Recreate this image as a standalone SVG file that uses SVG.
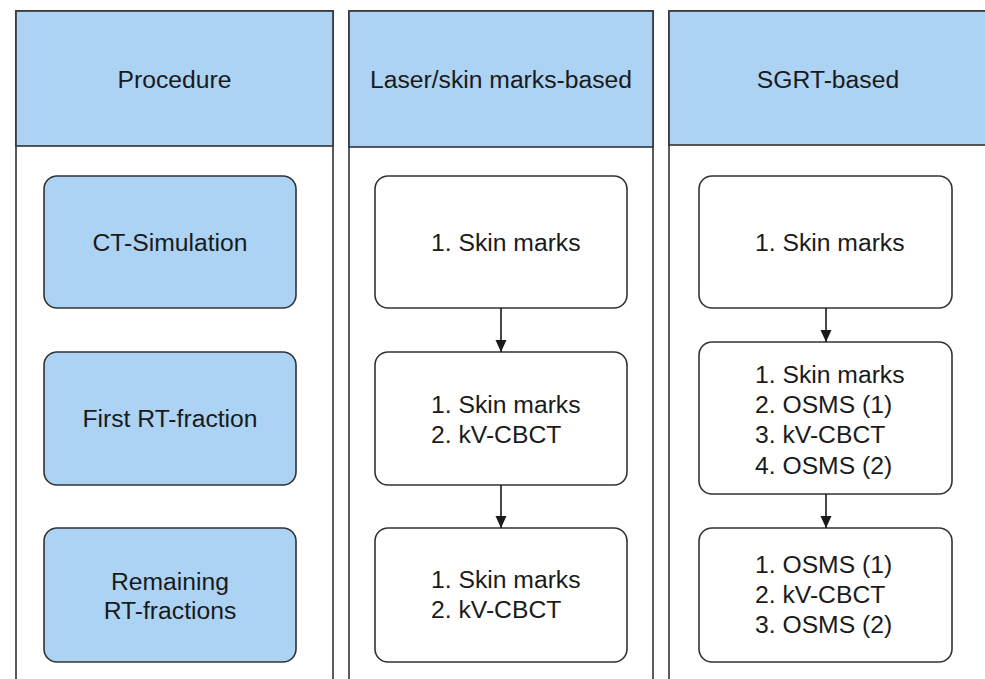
<svg xmlns="http://www.w3.org/2000/svg" width="985" height="679" viewBox="0 0 985 679">
  <style>
    .lane { fill: #ffffff; stroke: #333333; stroke-width: 1.6; }
    .head { fill: #acd2f4; stroke: #333333; stroke-width: 1.6; }
    .proc { fill: #acd2f4; stroke: #333333; stroke-width: 1.6; }
    .step { fill: #ffffff; stroke: #333333; stroke-width: 1.6; }
    text { font-family: "Liberation Sans", Arial, sans-serif; font-size: 24.7px; fill: #1a1a1a; }
    .c { text-anchor: middle; }
    .edge { stroke: #1a1a1a; stroke-width: 1.6; fill: none; marker-end: url(#arrow); }
  </style>
  <defs>
    <marker id="arrow" viewBox="0 0 12 12" refX="12" refY="6" markerWidth="12" markerHeight="12" markerUnits="userSpaceOnUse" orient="auto">
      <path d="M0,0.5 L12,6 L0,11.5 Z" fill="#1a1a1a"/>
    </marker>
  </defs>
  <rect width="985" height="679" fill="#ffffff"/>

  <!-- Lane: Procedure -->
  <g id="lane-procedure">
    <rect class="lane" x="16" y="11" width="317" height="690"/>
    <rect class="head" x="16" y="11" width="317" height="135"/>
    <text class="c" x="174.5" y="88">Procedure</text>
  </g>
  <!-- Lane: Laser/skin marks-based -->
  <g id="lane-laser">
    <rect class="lane" x="349" y="11" width="304" height="690"/>
    <rect class="head" x="349" y="11" width="304" height="136"/>
    <text class="c" x="501" y="88">Laser/skin marks-based</text>
  </g>
  <!-- Lane: SGRT-based -->
  <g id="lane-sgrt">
    <rect class="lane" x="669" y="11" width="320" height="690"/>
    <rect class="head" x="669" y="11" width="320" height="134"/>
    <text class="c" x="828" y="88">SGRT-based</text>
  </g>

  <!-- Procedure steps -->
  <g id="ct-simulation">
    <rect class="proc" x="44" y="176" width="252" height="132" rx="13"/>
    <text class="c" x="170" y="251">CT-Simulation</text>
  </g>
  <g id="first-fraction">
    <rect class="proc" x="44" y="352" width="252" height="133" rx="13"/>
    <text class="c" x="170" y="427">First RT-fraction</text>
  </g>
  <g id="remaining-fractions">
    <rect class="proc" x="44" y="528" width="252" height="134" rx="13"/>
    <text class="c" x="170" y="590">Remaining</text>
    <text class="c" x="170" y="619">RT-fractions</text>
  </g>

  <!-- Laser/skin marks workflow -->
  <g id="laser-sim">
    <rect class="step" x="375" y="176" width="252" height="132" rx="13"/>
    <text x="431" y="251">1. Skin marks</text>
  </g>
  <g id="laser-first">
    <rect class="step" x="375" y="352" width="252" height="133" rx="13"/>
    <text x="431" y="413">1. Skin marks</text>
    <text x="431" y="443">2. kV-CBCT</text>
  </g>
  <g id="laser-remaining">
    <rect class="step" x="375" y="528" width="252" height="134" rx="13"/>
    <text x="431" y="588">1. Skin marks</text>
    <text x="431" y="618">2. kV-CBCT</text>
  </g>

  <!-- SGRT workflow -->
  <g id="sgrt-sim">
    <rect class="step" x="699" y="176" width="253" height="132" rx="13"/>
    <text x="755" y="251">1. Skin marks</text>
  </g>
  <g id="sgrt-first">
    <rect class="step" x="699" y="342" width="253" height="152" rx="13"/>
    <text x="755" y="383">1. Skin marks</text>
    <text x="755" y="413">2. OSMS (1)</text>
    <text x="755" y="443">3. kV-CBCT</text>
    <text x="755" y="474">4. OSMS (2)</text>
  </g>
  <g id="sgrt-remaining">
    <rect class="step" x="699" y="528" width="253" height="134" rx="13"/>
    <text x="755" y="573">1. OSMS (1)</text>
    <text x="755" y="603">2. kV-CBCT</text>
    <text x="755" y="633">3. OSMS (2)</text>
  </g>

  <!-- Connectors -->
  <g id="connectors">
    <line class="edge" x1="501" y1="308" x2="501" y2="352"/>
    <line class="edge" x1="501" y1="485" x2="501" y2="528"/>
    <line class="edge" x1="826" y1="308" x2="826" y2="342"/>
    <line class="edge" x1="826" y1="494" x2="826" y2="528"/>
  </g>
</svg>
